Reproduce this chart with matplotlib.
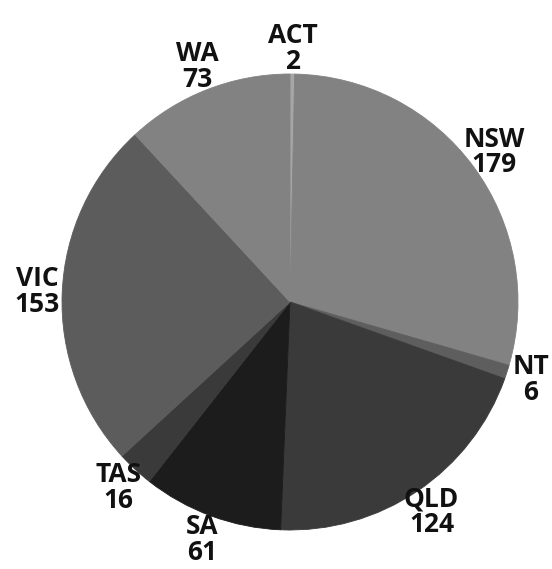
import matplotlib
matplotlib.use("Agg")
import matplotlib.pyplot as plt

# states, counts and slice colours (clockwise from top)
states = ["ACT", "NSW", "NT", "QLD", "SA", "TAS", "VIC", "WA"]
counts = [2, 179, 6, 124, 61, 16, 153, 73]
colors = ["#a6a6a6", "#828282", "#5e5e5e", "#3a3a3a", "#1c1c1c", "#3a3a3a", "#5c5c5c", "#828282"]

W, H = 552, 569
cx, cy, r = 290, 302, 228

fig = plt.figure(figsize=(W / 100, H / 100), dpi=100)
ax = fig.add_axes([0, 0, 1, 1])

labels = [f"{s}\n{c}" for s, c in zip(states, counts)]
wedges, texts = ax.pie(counts, labels=labels, colors=colors, startangle=90,
                       counterclock=False, labeldistance=1.11)
for w in wedges:
    # thin edge in the slice's own colour to hide seams
    w.set_edgecolor(w.get_facecolor())
    w.set_linewidth(0.6)
for t in texts:
    t.set_horizontalalignment("center")
    t.set_verticalalignment("center")
    t.set_fontfamily(["Open Sans", "DejaVu Sans"])
    t.set_fontweight("bold")
    t.set_fontsize(19)
    t.set_linespacing(0.95)
    t.set_color("#111111")

ax.set_xlim(-cx / r, (W - cx) / r)
ax.set_ylim(-(H - cy) / r, cy / r)
ax.set_aspect("auto")
ax.axis("off")

fig.savefig("out.png", dpi=100)
